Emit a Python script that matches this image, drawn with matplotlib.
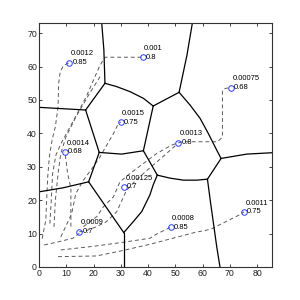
import matplotlib
matplotlib.use('Agg')
import matplotlib.pyplot as plt

# sites: position, weight label, value label
site_x = [11.1, 38.1, 30.0, 70.5, 51.1, 9.5, 31.2, 14.8, 48.3, 75.2]
site_y = [61.2, 62.8, 43.4, 53.7, 37.2, 34.5, 24.0, 10.6, 11.9, 16.5]
site_w = ['0.0012', '0.001', '0.0015', '0.00075', '0.0013', '0.0014', '0.00125', '0.0009', '0.0008', '0.0011']
site_v = ['0.85', '0.8', '0.75', '0.68', '0.8', '0.68', '0.7', '0.7', '0.85', '0.75']

# cell boundaries (solid), each as list of (x, y)
edges = [
    [(23.0, 73.2), (23.8, 65.0), (24.2, 55.0)],
    [(24.2, 55.0), (17.1, 47.0)],
    [(17.1, 47.0), (0.0, 47.8)],
    [(24.2, 55.0), (28.5, 54.0), (33.4, 52.5), (38.3, 50.5), (41.9, 48.2)],
    [(51.4, 52.3), (41.9, 48.2)],
    [(51.4, 52.3), (54.3, 63.5), (56.3, 73.2)],
    [(41.9, 48.2), (38.3, 34.8)],
    [(17.1, 47.0), (22.1, 34.3)],
    [(22.1, 34.3), (30.3, 33.8), (38.3, 34.8)],
    [(22.1, 34.3), (18.2, 25.5)],
    [(18.2, 25.5), (8.8, 23.7), (0.0, 22.5)],
    [(18.2, 25.5), (31.1, 10.3)],
    [(31.1, 10.3), (31.1, 0.0)],
    [(31.1, 10.3), (34.6, 13.6), (37.7, 16.6), (39.5, 19.6), (40.7, 21.6), (41.9, 24.6), (43.4, 27.5)],
    [(38.3, 34.8), (43.4, 27.5)],
    [(43.4, 27.5), (48.1, 26.6), (53.0, 26.0), (57.9, 26.0), (61.8, 26.3)],
    [(61.8, 26.3), (62.8, 20.1), (64.0, 13.1), (65.2, 6.1), (66.4, 0.0)],
    [(61.8, 26.3), (66.8, 32.5)],
    [(66.8, 32.5), (76.2, 33.8), (85.3, 34.2)],
    [(51.4, 52.3), (55.4, 48.5), (59.1, 44.5), (62.1, 40.0), (65.2, 35.0), (66.8, 32.5)],
]

# site paths (dashed)
paths = [
    [(1.2, 8.5), (1.5, 10), (2.5, 14), (2.8, 20), (3.2, 27), (3.8, 33), (4.8, 38), (6.0, 42),
     (7.0, 48), (7.2, 55), (7.8, 58.5), (9.0, 60.3), (11.1, 61.2)],
    [(4.0, 13), (4.5, 20), (5.0, 28), (6.2, 33.5), (8.1, 37), (11.7, 42.4), (17.3, 50.9),
     (22.1, 59.9), (23.2, 61.5), (24.3, 62.8), (38.1, 62.8)],
    [(5.5, 12), (6.0, 20), (7.0, 28), (8.0, 34), (9.9, 39.0), (13.6, 45.0), (18.5, 51.9), (22.8, 57.5)],
    [(8.0, 9), (12.0, 16), (13.5, 22), (16.3, 26.0), (19.9, 30.0), (22.4, 33.0), (24.8, 36.4),
     (27.3, 39.9), (29.1, 42.9), (30.0, 43.4)],
    [(51.1, 37.2), (53.0, 37.5), (65.5, 37.5), (67.3, 38.9), (67.3, 52.9), (68.5, 53.5), (70.5, 53.7)],
    [(16.3, 12.1), (21.2, 15.1), (23.6, 18.0), (27.3, 21.0), (29.7, 25.5), (33.4, 28.0), (38.3, 31.0),
     (43.2, 34.0), (48.7, 36.5), (51.1, 37.2)],
    [(14.8, 10.6), (16.4, 10.6), (20.9, 12.0), (24.6, 13.5), (28.5, 16.5), (32.0, 22.8), (35.0, 25.5),
     (39.0, 28.5), (44.0, 32.0), (50.0, 36.3)],
    [(1.9, 6.6), (7.4, 7.6), (12.4, 8.6), (14.8, 10.1)],
    [(11.7, 12.1), (11.7, 23.6), (10.5, 28), (9.5, 34.5)],
    [(8.0, 5.1), (20.0, 6.2), (30.0, 7.3), (40.7, 8.6), (43.0, 9.8), (46.5, 11.2), (48.3, 11.9)],
    [(7.0, 3.1), (21.0, 3.3), (30.0, 4.8), (40.7, 6.8), (50.0, 8.8), (57.0, 10.3), (63.0, 11.3),
     (73.5, 15.6), (75.2, 16.5)],
]

plt.rcParams['font.family'] = ['Liberation Sans', 'DejaVu Sans']
fig = plt.figure(figsize=(3, 3), dpi=100)
ax = fig.add_axes([0.13, 0.11, 0.775, 0.815])

for p in paths:
    xs, ys = zip(*p)
    ax.plot(xs, ys, '--', color='#5a5a5a', lw=0.7, dashes=(4, 3))
for e in edges:
    xs, ys = zip(*e)
    ax.plot(xs, ys, '-', color='black', lw=0.9)

ax.plot(site_x, site_y, 'o', mfc='none', mec='#2b3cff', ms=4, mew=0.7)
for x, y, w, v in zip(site_x, site_y, site_w, site_v):
    ax.annotate(v, (x, y), xytext=(2.2, 0), textcoords='offset points',
                fontsize=5.5, va='center', ha='left')
    ax.annotate(w, (x, y), xytext=(1.0, 6.3), textcoords='offset points',
                fontsize=5.5, va='center', ha='left')

ax.set_xlim(0, 85.3)
ax.set_ylim(0, 73.2)
ax.set_xticks(range(0, 81, 10))
ax.set_yticks(range(0, 71, 10))
ax.tick_params(direction='in', top=True, right=True, length=2.5, width=0.6,
               labelsize=6.3, pad=1.5, colors='#222222')
for s in ax.spines.values():
    s.set_linewidth(0.8)
    s.set_color('#333333')

fig.savefig('out.png', dpi=100)
